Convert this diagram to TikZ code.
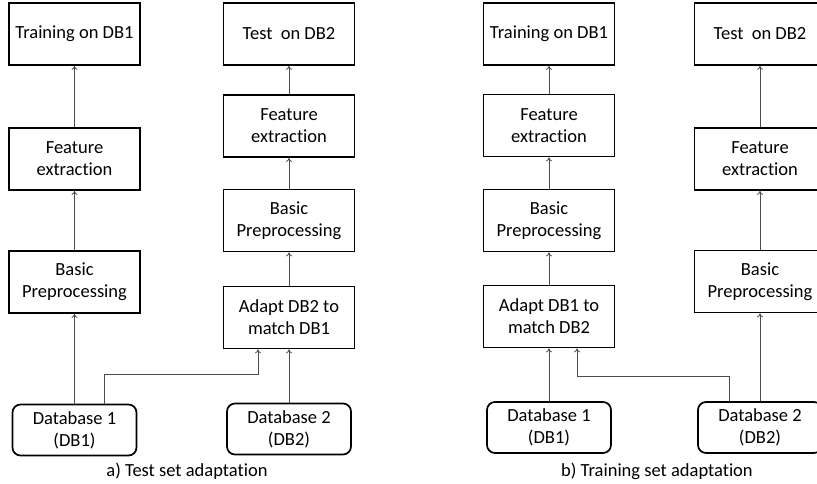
\documentclass[tikz,border=0pt]{standalone}
\usepackage{fontspec}
\setmainfont{Carlito}[Ligatures={NoCommon}]
\usetikzlibrary{positioning,arrows.meta,calc}
\tikzset{
  box/.style={draw, line width=1.7pt, minimum width=131pt, minimum height=62pt,
    inner sep=0pt, align=center, font=\fontsize{18.5}{22}\selectfont},
  dbbox/.style={box, rounded corners=8pt, minimum width=124pt, minimum height=51pt},
  link/.style={->, >={To[length=4pt,width=6pt]}, draw=black!70, line width=0.8pt},
  caption/.style={font=\fontsize{18.5}{22}\selectfont}
}

\begin{document}
\begin{tikzpicture}[x=1pt, y=-1pt]
  \useasboundingbox (0,0) rectangle (817,484);
  % a) test set adaptation
  \node[box] (a-train) at (74.5,34) {Training on DB1};
  \node[box] (a-feat1) at (74.5,159) {Feature\\extraction};
  \node[box] (a-pre1) at (74.5,282) {Basic\\Preprocessing};
  \node[dbbox] (a-db1) at (74.5,430) {Database 1\\(DB1)};
  \node[box] (a-test) at (289,34) {Test~ on DB2};
  \node[box] (a-feat2) at (289,126) {Feature\\extraction};
  \node[box] (a-pre2) at (289,220.5) {Basic\\Preprocessing};
  \node[box] (a-adapt) at (289,317.5) {Adapt DB2 to\\match DB1};
  \node[dbbox] (a-db2) at (289,429) {Database 2\\(DB2)};
  \node[caption] (a-cap) at (187,471) {a) Test set adaptation};

  \draw[link] (a-db1) -- (a-pre1);
  \draw[link] (a-pre1) -- (a-feat1);
  \draw[link] (a-feat1) -- (a-train);
  \draw[link] (a-db2) -- (a-adapt);
  \draw[link] (a-adapt) -- (a-pre2);
  \draw[link] (a-pre2) -- (a-feat2);
  \draw[link] (a-feat2) -- (a-test);
  \draw[link] ([xshift=30pt]a-db1.north) -- ++(0,-29) -| ([xshift=-31pt]a-adapt.south);

  % b) training set adaptation
  \node[box] (b-train) at (549,34) {Training on DB1};
  \node[box] (b-feat1) at (549,125.5) {Feature\\extraction};
  \node[box] (b-pre1) at (549,220.5) {Basic\\Preprocessing};
  \node[box] (b-adapt) at (549,316.5) {Adapt DB1 to\\match DB2};
  \node[dbbox] (b-db1) at (549,427.5) {Database 1\\(DB1)};
  \node[box] (b-test) at (760,34) {Test~ on DB2};
  \node[box] (b-feat2) at (760,159) {Feature\\extraction};
  \node[box] (b-pre2) at (760,281.5) {Basic\\Preprocessing};
  \node[dbbox] (b-db2) at (760,427.5) {Database 2\\(DB2)};
  \node[caption] (b-cap) at (657,471) {b) Training set adaptation};

  \draw[link] (b-db1) -- (b-adapt);
  \draw[link] (b-adapt) -- (b-pre1);
  \draw[link] (b-pre1) -- (b-feat1);
  \draw[link] (b-feat1) -- (b-train);
  \draw[link] (b-db2) -- (b-pre2);
  \draw[link] (b-pre2) -- (b-feat2);
  \draw[link] (b-feat2) -- (b-test);
  \draw[link] ([xshift=-31pt]b-db2.north) -- ++(0,-25) -| ([xshift=28pt]b-adapt.south);
\end{tikzpicture}
\end{document}
